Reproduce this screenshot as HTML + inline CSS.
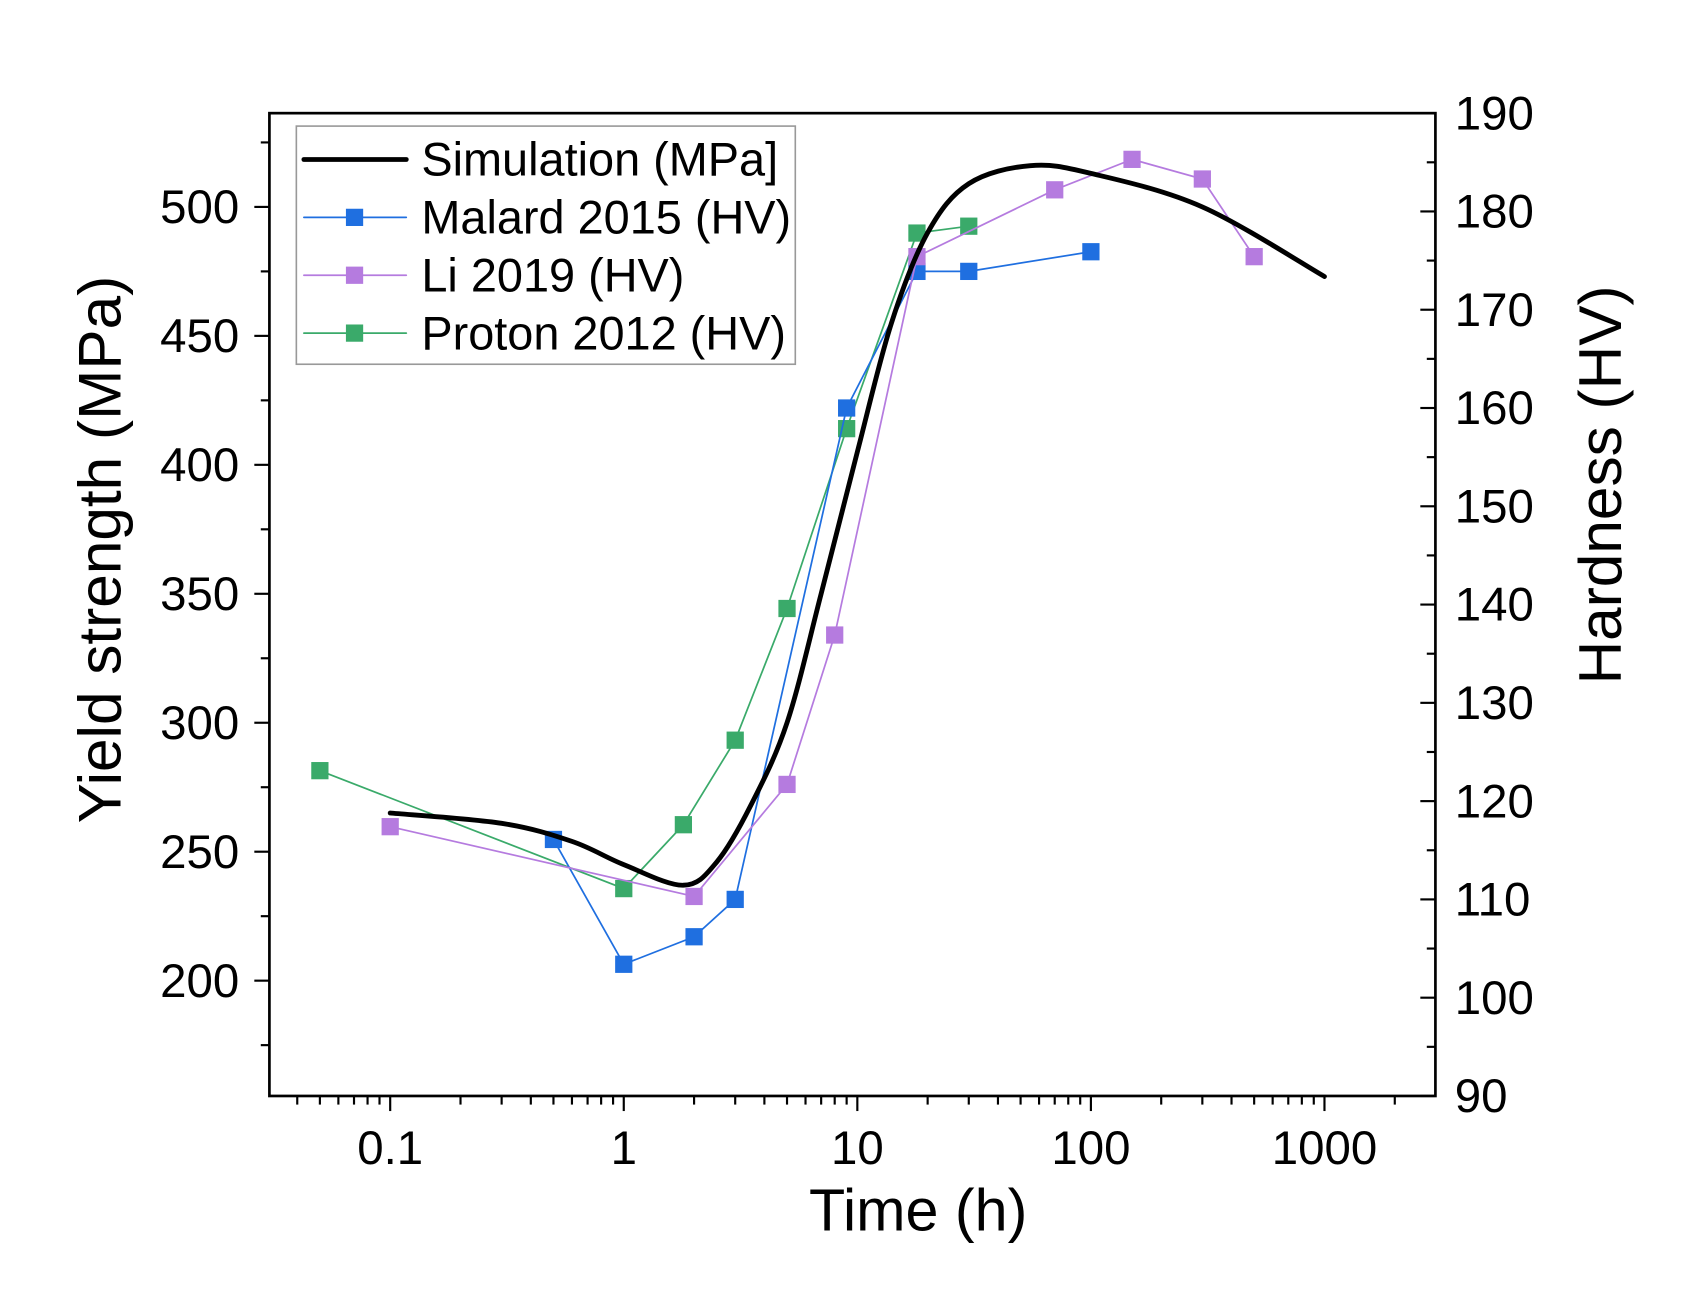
<!DOCTYPE html>
<html><head><meta charset="utf-8"><style>
html,body{margin:0;padding:0;background:#fff;}
svg{display:block;font-family:"Liberation Sans",Arial,sans-serif;}
</style></head><body>
<svg id="chart" width="1692" height="1292" viewBox="0 0 1570.1 1198.9" xmlns="http://www.w3.org/2000/svg">
<g id="plot"></g>
</svg>
<script>
const simTime=[0.1,0.3,0.6,1,1.8,2.5,3.5,5,7,10,14,20,30,55,100,300,1000];
const simYS=[265,261,254,245,237,246,268,300,350,405,455,490,509,516,513,500,473];
const malardTime=[0.5,1,2,3,9,18,30,100];
const malardHV=[116.1,103.4,106.2,110.0,160.0,173.9,173.9,175.9];
const liTime=[0.1,2,5,8,18,70,150,300,500];
const liHV=[117.4,110.3,121.7,136.9,175.4,182.2,185.3,183.3,175.4];
const protonTime=[0.05,1,1.8,3,5,9,18,30];
const protonHV=[123.1,111.1,117.6,126.2,139.6,157.9,177.8,178.5];
const leftTicks=[200,250,300,350,400,450,500];
const rightTicks=[90,100,110,120,130,140,150,160,170,180,190];
const xTicks=[0.1,1,10,100,1000];
const xTickLabels=["0.1","1","10","100","1000"];

const NS="http://www.w3.org/2000/svg";
const g=document.getElementById('plot');
const L=250,R=1332,T=105,B=1017;
const xmin=Math.log10(0.0304),xmax=3.475;
const X=v=>L+(Math.log10(v)-xmin)/(xmax-xmin)*(R-L);
const YL=v=>192+(500-v)*(910-192)/300;
const YR=v=>T+(190-v)*(B-T)/100;
function el(tag,attrs,parent){const e=document.createElementNS(NS,tag);for(const k in attrs)e.setAttribute(k,attrs[k]);(parent||g).appendChild(e);return e;}

const frame=el('rect',{x:L,y:T,width:R-L,height:B-T,fill:'none',stroke:'#000','stroke-width':2.5});



for(let v=175;v<=525;v+=25){const major=v%50===0;const t=el('line',{x1:L,x2:L-(major?14:8),y1:YL(v),y2:YL(v),stroke:'#000','stroke-width':2});

}
leftTicks.forEach(v=>{const t=el('text',{x:222,y:YL(v)+15,'text-anchor':'end','font-size':44});t.textContent=v;

});
for(let v=90;v<=190;v+=5){const major=v%10===0;const t=el('line',{x1:R,x2:R-(major?14:8),y1:YR(v),y2:YR(v),stroke:'#000','stroke-width':2});

}
rightTicks.forEach(v=>{const t=el('text',{x:1350,y:YR(v)+15,'font-size':44});t.textContent=v;

});
for(let d=-2;d<=3;d++){for(let m=1;m<=9;m++){const v=m*Math.pow(10,d);const px=X(v);if(px<L||px>R)continue;const major=m===1;
const t=el('line',{x1:px,x2:px,y1:B,y2:B+(major?14:8),stroke:'#000','stroke-width':2});

}}
xTicks.forEach((v,i)=>{const t=el('text',{x:X(v),y:1080,'text-anchor':'middle','font-size':44});t.textContent=xTickLabels[i];

});

let tt=el('text',{x:852,y:1142,'text-anchor':'middle','font-size':55});tt.textContent='Time (h)';


tt=el('text',{x:0,y:0,'text-anchor':'middle','font-size':56,transform:'translate(112,510) rotate(-90)'});tt.textContent='Yield strength (MPa)';


tt=el('text',{x:0,y:0,'text-anchor':'middle','font-size':56,transform:'translate(1504,450) rotate(-90)'});tt.textContent='Hardness (HV)';



function series(ts,vs,color,name){
  const pts=ts.map((t,i)=>X(t)+','+YR(vs[i])).join(' ');
  const pl=el('polyline',{points:pts,fill:'none',stroke:color,'stroke-width':1.6});
  
  
  ts.forEach((t,i)=>{const r=el('rect',{x:X(t)-8,y:YR(vs[i])-8,width:16,height:16,fill:color});
  
  });
}
series(protonTime,protonHV,'#3aaa6a','proton-2012');
series(malardTime,malardHV,'#1f6fe0','malard-2015');
series(liTime,liHV,'#b57bdf','li-2019');

const sp=simTime.map((t,i)=>[X(t),YL(simYS[i])]);
let d='M'+sp[0][0]+','+sp[0][1];
for(let i=0;i<sp.length-1;i++){const p0=sp[Math.max(0,i-1)],p1=sp[i],p2=sp[i+1],p3=sp[Math.min(sp.length-1,i+2)];
d+=' C'+(p1[0]+(p2[0]-p0[0])/6)+','+(p1[1]+(p2[1]-p0[1])/6)+' '+(p2[0]-(p3[0]-p1[0])/6)+','+(p2[1]-(p3[1]-p1[1])/6)+' '+p2[0]+','+p2[1];}
const sim=el('path',{d:d,fill:'none',stroke:'#000','stroke-width':4.5,'stroke-linecap':'round'});



const lg=el('g',{});


const lb=el('rect',{x:275,y:117,width:463,height:221,fill:'#fff',stroke:'#999','stroke-width':1.5},lg);


const entries=[['Simulation (MPa]','#000',true,'legend-simulation'],['Malard 2015 (HV)','#1f6fe0',false,'legend-malard'],['Li 2019 (HV)','#b57bdf',false,'legend-li'],['Proton 2012 (HV)','#3aaa6a',false,'legend-proton']];
entries.forEach((e,i)=>{const y=148+i*53.7;
  const ln=el('line',{x1:282,x2:377,y1:y,y2:y,stroke:e[1],'stroke-width':e[2]?4.5:1.6,'stroke-linecap':'round'},lg);
  
  
  if(!e[2]){const m=el('rect',{x:321,y:y-8,width:16,height:16,fill:e[1]},lg);
  
  }
  const tx=el('text',{x:391,y:y+15,'font-size':43.5},lg);tx.textContent=e[0];
  
  
});
</script>
</body></html>
